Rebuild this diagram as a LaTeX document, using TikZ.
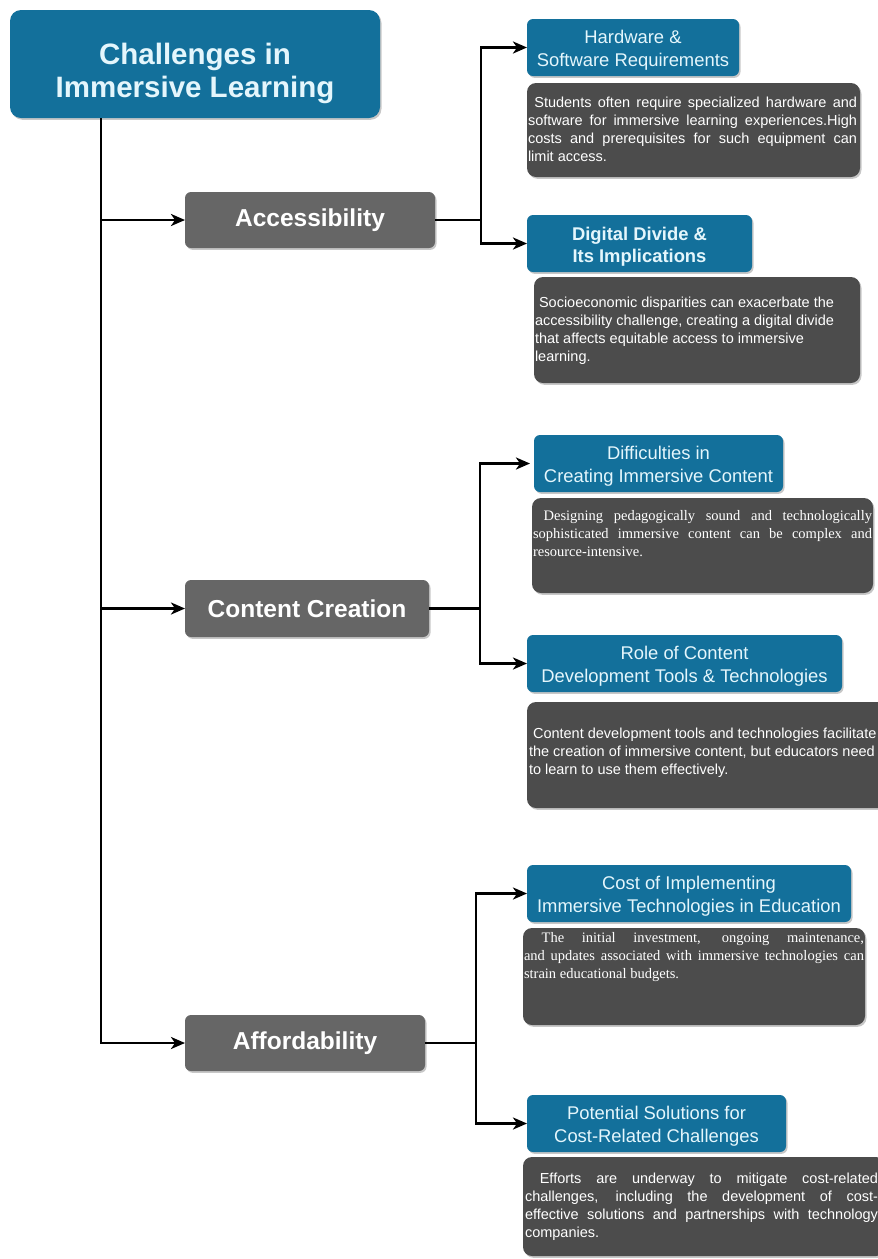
\documentclass[tikz,border=0pt]{standalone}
\usepackage{fontspec}
\setmainfont{Liberation Sans}
\newfontfamily\serifx{Liberation Serif}
\usetikzlibrary{arrows.meta,shadows}
\definecolor{tealb}{RGB}{19,112,155}
\definecolor{paleb}{RGB}{228,246,252}
\definecolor{midgray}{RGB}{102,102,102}
\definecolor{darkg}{RGB}{76,76,76}
\newcommand\jline[2]{\makebox[#1][s]{#2}}
\begin{document}
\begin{tikzpicture}[x=1pt,y=-1pt,
  every node/.style={inner sep=0pt, outer sep=0pt},
  shad/.style={drop shadow={shadow xshift=1.5pt, shadow yshift=-1.8pt, fill=black, opacity=0.22}},
  rootbox/.style={fill=tealb, rounded corners=11pt, anchor=north west, shad},
  roottext/.style={text=paleb, font=\fontsize{29.5}{33}\selectfont\bfseries, align=center},
  catbox/.style={fill=midgray, rounded corners=6pt, text=white, font=\fontsize{24.5}{28}\selectfont\bfseries, anchor=north west, shad},
  hdrbox/.style={fill=tealb, rounded corners=6pt, anchor=north west, shad},
  hdrtext/.style={text=paleb, font=\fontsize{18.4}{23}\selectfont, align=center},
  descbox/.style={fill=darkg, rounded corners=9pt, anchor=north west, shad},
  desctext/.style={text=white, font=\fontsize{14.5}{18.3}\selectfont, align=left, anchor=north west},
  serifdesc/.style={text=white, font=\serifx\fontsize{14.5}{18.3}\selectfont, align=left, anchor=north west},
  arr/.style={line width=2.7pt, -{Stealth[length=14pt,width=12pt,inset=4pt]}}
]
\path[use as bounding box] (0,0) rectangle (878,1259);
\clip (0,0) rectangle (878,1259);
\fill[white] (0,0) rectangle (878,1259);

% root
\node[rootbox, minimum width=370pt, minimum height=108pt] (root) at (10,10) {};
\node[roottext] (roott) at ([yshift=-9pt]root.center) {Challenges in\\Immersive Learning};

% categories
\node[catbox, minimum width=250pt, minimum height=56pt] (acc) at (185,192) {Accessibility};
\node[catbox, minimum width=244pt, minimum height=57pt] (cc) at (185,580) {Content Creation};
\node[catbox, minimum width=240pt, minimum height=56pt] (aff) at (185,1015) {Affordability};

% headers
\node[hdrbox, minimum width=212pt, minimum height=57pt] (hw) at (527,19) {};
\node[hdrtext] (hwt) at ([yshift=-3pt]hw.center) {Hardware \&\\Software Requirements};
\node[hdrbox, minimum width=225pt, minimum height=57pt] (dd) at (527,215) {};
\node[hdrtext, font=\fontsize{18.4}{22.5}\selectfont\bfseries] (ddt) at ([yshift=-3pt]dd.center) {Digital Divide \&\\Its Implications};
\node[hdrbox, minimum width=249pt, minimum height=57pt] (diff) at (534,435) {};
\node[hdrtext] (difft) at ([yshift=-3pt]diff.center) {Difficulties in\\Creating Immersive Content};
\node[hdrbox, minimum width=315pt, minimum height=57pt] (role) at (527,635) {};
\node[hdrtext] (rolet) at ([yshift=-3pt]role.center) {Role of Content\\Development Tools \& Technologies};
\node[hdrbox, minimum width=324pt, minimum height=57pt] (cost) at (527,865) {};
\node[hdrtext] (costt) at ([yshift=-3pt]cost.center) {Cost of Implementing\\Immersive Technologies in Education};
\node[hdrbox, minimum width=259pt, minimum height=57pt] (pot) at (527,1095) {};
\node[hdrtext] (pott) at ([yshift=-3pt]pot.center) {Potential Solutions for\\Cost-Related Challenges};

% description boxes
\node[descbox, minimum width=333pt, minimum height=94pt] (d1) at (527,83) {};
\node[desctext] (d1t) at (528,96.5) {\jline{329pt}{\ Students often require specialized hardware and}\\
\jline{329pt}{software for immersive learning experiences.High}\\
\jline{329pt}{costs and prerequisites for such equipment can}\\
limit access.};

\node[descbox, minimum width=326pt, minimum height=106pt] (d2) at (534,277) {};
\node[desctext] (d2t) at (535,296.5) {\ Socioeconomic disparities can exacerbate the\\
accessibility challenge, creating a digital divide\\
that affects equitable access to immersive\\
learning.};

\node[descbox, minimum width=341pt, minimum height=95pt] (d3) at (532,498) {};
\node[serifdesc] (d3t) at (533,510) {\jline{339pt}{\ Designing pedagogically sound and technologically}\\
\jline{339pt}{sophisticated immersive content can be complex and}\\
resource-intensive.};

\node[descbox, minimum width=363pt, minimum height=106pt] (d4) at (527,702) {};
\node[desctext] (d4t) at (529,727.5) {\ Content development tools and technologies facilitate\\
the creation of immersive content, but educators need\\
to learn to use them effectively.};

\node[descbox, minimum width=342pt, minimum height=97pt] (d5) at (523,928) {};
\node[serifdesc] (d5t) at (524,932) {\jline{340pt}{\ The initial investment, ongoing maintenance,}\\
\jline{340pt}{and updates associated with immersive technologies can}\\
strain educational budgets.};

\node[descbox, minimum width=362pt, minimum height=99pt] (d6) at (523,1157) {};
\node[desctext] (d6t) at (525,1172.5) {\jline{353pt}{\ Efforts are underway to mitigate cost-related}\\
\jline{353pt}{challenges, including the development of cost-}\\
\jline{353pt}{effective solutions and partnerships with technology}\\
companies.};

% connectors
\draw[arr] ([xshift=91pt]root.south west) |- (acc.west);
\draw[arr] ([xshift=91pt]root.south west) |- (cc.west);
\draw[arr] ([xshift=91pt]root.south west) |- (aff.west);

\draw[arr] (acc.east) -- ++(46,0) |- (hw.west);
\draw[arr] (acc.east) -- ++(46,0) |- (dd.west);
\draw[arr] (cc.east) -- ++(51,0) |- ([xshift=-4pt]diff.west);
\draw[arr] (cc.east) -- ++(51,0) |- (role.west);
\draw[arr] (aff.east) -- ++(51,0) |- (cost.west);
\draw[arr] (aff.east) -- ++(51,0) |- (pot.west);
\end{tikzpicture}
\end{document}
